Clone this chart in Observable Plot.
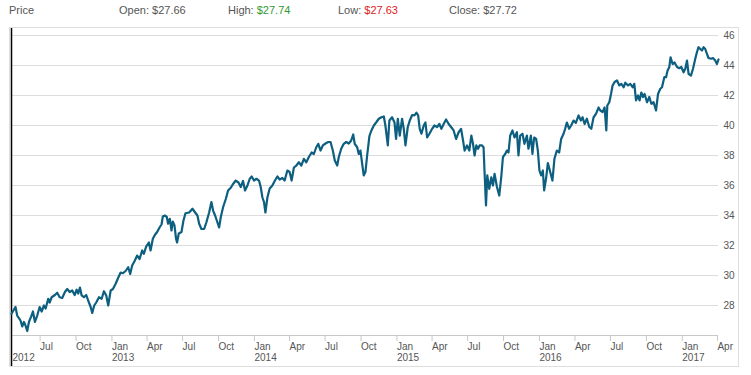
<!DOCTYPE html>
<html>
<head>
<meta charset="utf-8">
<script src="https://cdn.jsdelivr.net/npm/d3@7"></script>
<script src="https://cdn.jsdelivr.net/npm/@observablehq/plot@0.6"></script>
<style>
  html, body { margin: 0; padding: 0; background: #fff; }
  body { width: 751px; height: 375px; position: relative; overflow: hidden; font-family: "Liberation Sans", Arial, sans-serif; }
  #header { position: absolute; left: 0; top: 0; width: 751px; height: 26px; font-size: 11px; color: #555; }
  #header span { position: absolute; top: 4px; white-space: nowrap; }
  .up { color: #2f9a2f; }
  .down { color: #dd2222; }
  #frame { position: absolute; left: 9px; top: 27px; width: 728px; height: 338px; border: 1px solid #dedede; }
  #frame svg { display: block; }
</style>
</head>
<body>
<div id="header"></div>
<div id="frame"></div>
<script>
// ---- data (decimal years) ----
const years = [
  2012.311,2012.339,2012.351,2012.374,2012.386,2012.398,2012.409,2012.421,2012.433,2012.449,
  2012.461,2012.475,2012.491,2012.508,2012.522,2012.538,2012.550,2012.568,2012.578,2012.592,
  2012.615,2012.631,2012.648,2012.666,2012.685,2012.701,2012.718,2012.736,2012.753,2012.767,
  2012.778,2012.790,2012.802,2012.818,2012.834,2012.848,2012.865,2012.876,2012.890,2012.904,
  2012.923,2012.942,2012.958,2012.974,2012.988,2013.005,2013.021,2013.040,2013.058,2013.075,
  2013.091,2013.110,2013.128,2013.142,2013.156,2013.175,2013.191,2013.208,2013.226,2013.238,
  2013.254,2013.273,2013.285,2013.301,2013.315,2013.331,2013.348,2013.362,2013.371,2013.385,
  2013.399,2013.408,2013.420,2013.432,2013.441,2013.453,2013.464,2013.471,2013.483,2013.502,
  2013.516,2013.530,
  2013.556,2013.579,2013.598,2013.614,2013.626,2013.642,2013.661,2013.677,2013.696,2013.712,
  2013.724,2013.738,2013.754,2013.766,2013.778,2013.794,2013.813,2013.829,2013.848,2013.864,
  2013.883,2013.902,2013.918,2013.934,2013.948,2013.965,2013.981,2013.995,2014.011,2014.028,
  2014.046,2014.058,2014.070,2014.081,2014.091,2014.105,2014.121,2014.140,2014.158,2014.175,
  2014.191,2014.210,2014.226,2014.245,2014.261,2014.275,2014.291,2014.308,2014.326,2014.343,
  2014.361,2014.378,2014.396,2014.415,2014.431,2014.448,2014.462,2014.478,2014.494,2014.513,
  2014.532,2014.548,2014.564,2014.578,2014.595,2014.606,2014.623,2014.641,2014.658,2014.676,
  2014.693,2014.707,2014.718,2014.735,2014.746,2014.758,2014.770,2014.781,
  2014.793,2014.805,2014.821,2014.835,2014.852,2014.868,2014.887,2014.905,2014.922,2014.933,
  2014.950,2014.961,2014.980,2014.997,2015.008,2015.020,2015.034,2015.050,2015.062,2015.074,
  2015.090,2015.104,2015.121,2015.137,2015.151,2015.163,2015.174,2015.186,2015.202,2015.214,
  2015.226,2015.242,2015.261,2015.277,2015.296,2015.312,2015.326,2015.342,2015.359,2015.377,
  2015.394,2015.412,2015.429,2015.447,2015.464,2015.478,2015.489,2015.506,2015.522,2015.536,
  2015.548,2015.559,2015.571,2015.583,2015.594,2015.611,2015.622,2015.629,2015.639,2015.648,
  2015.662,2015.676,2015.688,2015.699,2015.716,2015.732,2015.746,2015.758,2015.774,2015.786,
  2015.797,2015.809,2015.825,2015.839,2015.856,2015.867,2015.879,2015.895,2015.909,2015.926,
  2015.937,2015.954,2015.965,2015.977,2015.991,2016.003,2016.014,2016.026,2016.038,2016.047,
  2016.061,2016.073,2016.084,
  2016.105,2016.119,2016.136,2016.152,2016.166,2016.183,2016.194,2016.206,2016.222,2016.236,
  2016.253,2016.269,2016.288,2016.304,2016.316,2016.330,2016.346,2016.363,2016.377,2016.393,
  2016.410,2016.428,2016.440,2016.456,2016.470,2016.482,2016.489,2016.503,2016.515,2016.526,
  2016.540,2016.557,2016.573,2016.587,2016.603,2016.615,2016.634,2016.650,2016.666,2016.678,
  2016.690,2016.704,2016.715,2016.727,2016.739,2016.750,2016.767,2016.783,2016.797,2016.813,
  2016.830,2016.844,2016.860,2016.872,2016.888,2016.900,2016.911,2016.923,2016.932,2016.946,
  2016.960,2016.977,2016.993,2017.007,2017.023,2017.035,2017.047,2017.058,2017.075,2017.089,
  2017.105,2017.117,2017.128,2017.140,2017.152,2017.163,2017.175,2017.187,2017.198,2017.215,
  2017.229,2017.245,2017.257,2017.268
];
const prices = [
  27.45,27.9,27.33,27.0,26.6,26.9,26.67,26.3,26.9,27.27,
  27.6,26.9,27.33,27.9,27.6,28.0,27.8,28.45,28.2,28.55,
  28.7,28.85,28.55,28.5,28.9,29.1,28.9,29.0,28.7,29.05,
  28.8,29.2,28.67,28.55,28.7,28.33,27.9,27.5,28.0,28.2,
  28.55,28.45,28.95,28.67,28.0,29.0,29.1,29.45,29.85,30.2,
  30.15,30.3,30.55,30.1,30.67,31.0,31.33,31.1,31.67,31.45,
  31.93,32.2,31.67,32.45,32.7,32.9,33.2,33.4,33.93,34.0,
  33.9,33.45,33.78,33.0,33.6,33.33,32.45,32.2,32.8,32.9,
  33.67,34.15,
  34.2,34.45,34.2,34.0,33.45,33.1,33.1,33.55,34.2,34.9,
  34.33,34.0,33.55,33.2,33.9,34.55,35.1,35.67,35.85,36.1,
  36.33,36.2,35.9,36.3,35.67,36.0,36.45,36.6,36.33,36.45,
  36.33,35.9,35.2,34.9,34.2,35.2,35.8,36.0,36.33,36.6,
  36.4,36.5,36.33,37.0,36.9,36.33,37.2,37.33,37.55,37.33,
  37.78,37.55,37.9,38.2,38.1,38.55,38.78,38.33,38.67,38.8,
  38.9,38.9,38.33,37.67,37.33,37.9,38.45,38.78,38.9,38.8,
  39.0,39.4,38.78,38.55,38.1,38.33,37.45,36.67,
  36.9,38.0,39.3,39.67,40.0,40.2,40.45,40.55,40.6,40.0,
  38.67,40.33,40.55,40.2,39.1,40.45,39.33,40.45,39.78,38.67,
  39.9,40.33,40.7,40.67,40.85,40.67,39.78,39.45,40.0,40.2,
  39.2,39.45,39.78,40.0,39.9,40.1,39.78,40.1,40.4,40.1,
  39.9,39.67,39.1,39.55,39.78,39.0,38.33,38.67,38.33,39.33,
  38.78,38.0,38.67,38.45,38.67,38.67,38.55,36.9,34.67,36.67,
  35.78,36.55,36.0,36.78,35.9,35.33,36.55,37.9,38.1,38.33,
  38.2,39.33,39.67,39.2,39.55,38.0,39.33,39.45,38.78,39.33,
  38.45,39.33,38.1,39.2,39.1,38.33,37.0,36.67,37.0,35.67,
  36.5,37.5,37.1,
  36.33,37.78,38.33,38.2,39.1,39.45,39.78,40.2,39.78,40.0,
  40.33,40.17,40.67,40.33,40.55,40.1,40.45,39.9,39.78,40.55,
  40.78,41.2,41.0,40.9,41.2,39.67,41.33,41.55,42.1,42.67,
  42.9,43.0,42.67,42.78,42.55,42.85,42.67,42.78,42.55,42.78,
  41.67,42.0,41.67,42.2,41.9,42.1,41.55,41.9,41.45,41.55,
  41.0,42.1,42.45,42.55,43.22,43.22,43.67,43.9,44.55,44.1,
  44.2,43.9,43.82,43.9,43.55,43.78,44.33,43.45,43.33,43.78,
  44.45,44.9,45.22,45.1,45.0,45.22,45.1,44.78,44.5,44.45,
  44.5,44.33,44.1,44.4
];
const yTicks = [28, 30, 32, 34, 36, 38, 40, 42, 44, 46];
const xTickDates = [
  "2012-07-01","2012-10-01","2013-01-01","2013-04-01","2013-07-01","2013-10-01",
  "2014-01-01","2014-04-01","2014-07-01","2014-10-01","2015-01-01","2015-04-01",
  "2015-07-01","2015-10-01","2016-01-01","2016-04-01","2016-07-01","2016-10-01",
  "2017-01-01","2017-04-01"
];
const xTickLabels = [
  "Jul","Oct","Jan\n2013","Apr","Jul","Oct",
  "Jan\n2014","Apr","Jul","Oct","Jan\n2015","Apr",
  "Jul","Oct","Jan\n2016","Apr","Jul","Oct",
  "Jan\n2017","Apr"
];
const startLabel = "2012";
const headerItems = [
  {label: "Price", value: "", cls: ""},
  {label: "Open: ", value: "$27.66", cls: ""},
  {label: "High: ", value: "$27.74", cls: "up"},
  {label: "Low: ", value: "$27.63", cls: "down"},
  {label: "Close: ", value: "$27.72", cls: ""}
];
const headerLeft = [9, 119, 228, 338, 449];

// ---- build ----
const toDate = y => {
  const Y = Math.floor(y);
  const a = Date.UTC(Y, 0, 1), b = Date.UTC(Y + 1, 0, 1);
  return new Date(a + (y - Y) * (b - a));
};
const data = years.map((y, i) => ({date: toDate(y), price: prices[i]}));
const tickDates = xTickDates.map(s => new Date(s));
const labelMap = new Map(tickDates.map((d, i) => [+d, xTickLabels[i]]));
const x0 = data[0].date, x1 = data[data.length - 1].date;

const header = document.getElementById("header");
headerItems.forEach((h, i) => {
  const s = document.createElement("span");
  s.style.left = headerLeft[i] + "px";
  s.appendChild(document.createTextNode(h.label));
  if (h.value) {
    const v = document.createElement("span");
    v.style.position = "static";
    if (h.cls) v.className = h.cls;
    v.textContent = h.value;
    s.appendChild(v);
  }
  header.appendChild(s);
});

const chart = Plot.plot({
  width: 728,
  height: 338,
  marginLeft: 1,
  marginRight: 20,
  marginTop: 7,
  marginBottom: 31,
  style: {fontFamily: "'Liberation Sans', Arial, sans-serif", fontSize: "10px", color: "#555", background: "white", overflow: "visible"},
  x: {type: "utc", domain: [x0, x1]},
  y: {domain: [26, 46]},
  marks: [
    Plot.gridY(yTicks, {stroke: "#dcdcdc", strokeOpacity: 1}),
    Plot.ruleY([26], {stroke: "#c8c8c8"}),
    Plot.axisY(yTicks, {anchor: "right", tickSize: 0, tickPadding: 5, label: null, fill: "#555"}),
    Plot.axisX(tickDates, {anchor: "bottom", tickSize: 6, tickPadding: 1.5, stroke: "#c8c8c8", strokeOpacity: 1,
      tickFormat: d => labelMap.get(+d), textAnchor: "start", dx: 2, label: null, fill: "#555", lineHeight: 1.05}),
    Plot.text([x0], {x: d => d, text: () => startLabel, frameAnchor: "bottom", lineAnchor: "top",
      textAnchor: "start", dx: 1, dy: 18, fill: "#555"}),
    Plot.ruleX([x0], {stroke: "#000", strokeWidth: 1.5, insetTop: -7, insetBottom: -31}),
    Plot.lineY(data, {x: "date", y: "price", stroke: "#0d5f80", strokeWidth: 2.2, strokeLinejoin: "round"})
  ]
});
document.getElementById("frame").appendChild(chart);
</script>
</body>
</html>
